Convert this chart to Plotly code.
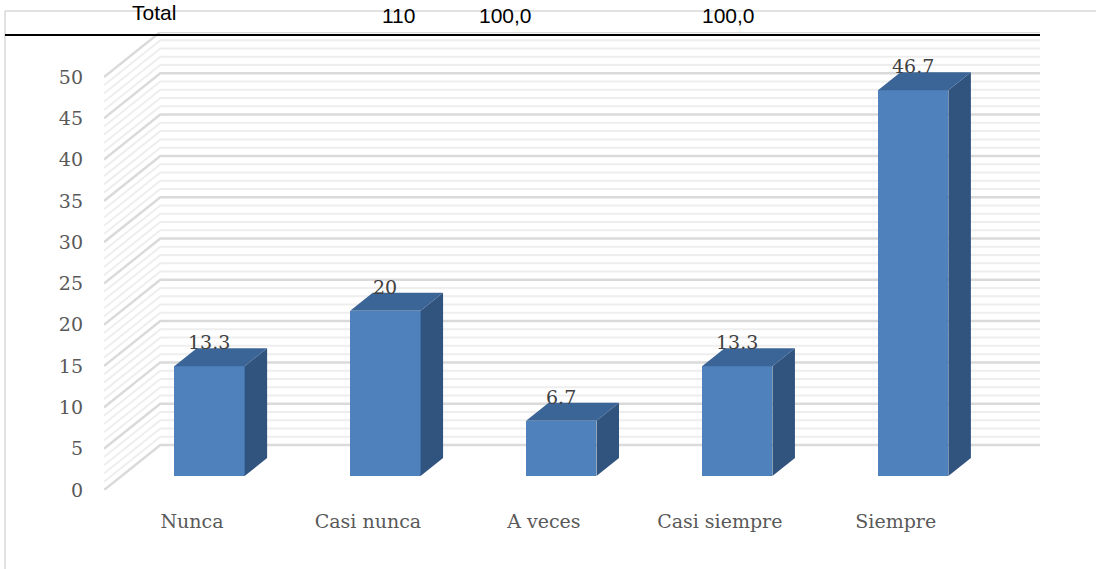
import plotly.graph_objects as go

# ---- data -------------------------------------------------------------
categories = ["Nunca", "Casi nunca", "A veces", "Casi siempre", "Siempre"]
percent = [13.3, 20, 6.7, 13.3, 46.7]
y_ticks = list(range(0, 55, 5))
header_labels = ["Total", "110", "100,0", "100,0"]

# ---- 3-D look (oblique projection) -----------------------------------
DEPTH_X = 0.32     # horizontal depth shift, in category units
DEPTH_Y = 5.45     # vertical depth shift, in value units
BAR_FRONT = 0.31   # depth fraction where the bar front face sits
BAR_DEPTH = 0.40   # depth fraction occupied by each bar
BAR_W = 0.40       # bar width, in category units
Y_MAX = 50

FRONT_C = "#4f81bd"
TOP_C = "#3c6597"
SIDE_C = "#31547f"

# plot area in pixels (used to place header items in paper coords)
W, H = 1096, 569
L, R, T, B = 104, 1040, 32, 490


def px_x(p):
    return (p - L) / (R - L)


def px_y(p):
    return (B - p) / (B - T)


fig = go.Figure()

n = len(categories)
x_left, x_right = -0.5, n - 0.5
x_range = [x_left, x_right + DEPTH_X]
y_range = [0, Y_MAX + DEPTH_Y]

# back wall and side wall grid lines, one polyline per value step
minor_x, minor_y, major_x, major_y = [], [], [], []
for v in range(0, Y_MAX + 1):
    xs = [x_left, x_left + DEPTH_X, x_right + DEPTH_X, None]
    ys = [v, v + DEPTH_Y, v + DEPTH_Y, None]
    if v % 5 == 0:
        major_x += xs
        major_y += ys
    else:
        minor_x += xs
        minor_y += ys

fig.add_trace(go.Scatter(x=minor_x, y=minor_y, mode="lines",
                         line=dict(color="#eeeeee", width=2),
                         hoverinfo="skip", showlegend=False))
fig.add_trace(go.Scatter(x=major_x, y=major_y, mode="lines",
                         line=dict(color="#dadada", width=2.5),
                         hoverinfo="skip", showlegend=False))

# bars live on an overlaying pair of axes so they sit above the walls
base = BAR_FRONT * DEPTH_Y
centers = [i + BAR_FRONT * DEPTH_X for i in range(n)]
dx, dy = BAR_DEPTH * DEPTH_X, BAR_DEPTH * DEPTH_Y

side_x, side_y, top_x, top_y = [], [], [], []
for c, v in zip(centers, percent):
    xl, xr = c - BAR_W / 2, c + BAR_W / 2
    top = base + v
    side_x += [xr, xr + dx, xr + dx, xr, None]
    side_y += [base, base + dy, top + dy, top, None]
    top_x += [xl, xr, xr + dx, xl + dx, None]
    top_y += [top, top, top + dy, top + dy, None]

fig.add_trace(go.Bar(x=centers, y=percent, base=base, width=BAR_W,
                     marker=dict(color=FRONT_C, line=dict(width=0)),
                     xaxis="x2", yaxis="y2", showlegend=False))
fig.add_trace(go.Scatter(x=side_x, y=side_y, mode="lines", fill="toself",
                         fillcolor=SIDE_C, line=dict(width=0, color=SIDE_C),
                         xaxis="x2", yaxis="y2",
                         hoverinfo="skip", showlegend=False))
fig.add_trace(go.Scatter(x=top_x, y=top_y, mode="lines", fill="toself",
                         fillcolor=TOP_C, line=dict(width=0, color=TOP_C),
                         xaxis="x2", yaxis="y2",
                         hoverinfo="skip", showlegend=False))

# value labels above each bar
for c, v in zip(centers, percent):
    fig.add_annotation(x=c, y=base + v, text=f"{v:g}", showarrow=False,
                       yshift=24, xanchor="center", yanchor="middle",
                       font=dict(family="DejaVu Serif", size=19, color="#404040"))

# header row above the chart
header_x = [154, 398, 505, 728]
header_y = [25, 28, 28, 28]
for txt, hx, hy in zip(header_labels, header_x, header_y):
    fig.add_annotation(x=px_x(hx), y=px_y(hy), xref="paper", yref="paper",
                       text=txt, showarrow=False, xanchor="center",
                       yanchor="bottom", borderpad=0,
                       font=dict(family="Liberation Sans", size=21, color="#000000"))

# chart frame and header rule
fig.add_shape(type="line", xref="paper", yref="paper",
              x0=px_x(5), x1=px_x(W + 5), y0=px_y(11), y1=px_y(11),
              line=dict(color="#d9d9d9", width=1.5))
fig.add_shape(type="line", xref="paper", yref="paper",
              x0=px_x(5), x1=px_x(5), y0=px_y(11), y1=px_y(H + 5),
              line=dict(color="#d9d9d9", width=1.5))
fig.add_shape(type="line", xref="paper", yref="paper",
              x0=px_x(5), x1=px_x(1040), y0=px_y(35), y1=px_y(35),
              line=dict(color="#000000", width=2))

axis_font = dict(family="DejaVu Serif", size=19, color="#595959")
hidden = dict(showgrid=False, zeroline=False, showline=False,
              showticklabels=False, ticks="", fixedrange=True)
fig.update_layout(
    width=W, height=H,
    margin=dict(l=L, r=W - R, t=T, b=H - B),
    paper_bgcolor="white", plot_bgcolor="white",
    xaxis=dict(range=x_range, tickvals=list(range(n)),
               ticktext=categories, showgrid=False, zeroline=False,
               showline=False, ticks="", tickfont=axis_font,
               ticklabelstandoff=18, fixedrange=True),
    yaxis=dict(range=y_range, tickvals=y_ticks,
               showgrid=False, zeroline=False, showline=False, ticks="",
               tickfont=axis_font, ticklabelstandoff=20, fixedrange=True),
    xaxis2=dict(range=x_range, overlaying="x", **hidden),
    yaxis2=dict(range=y_range, overlaying="y", **hidden),
    bargap=0,
)

fig.write_html("out.html")
